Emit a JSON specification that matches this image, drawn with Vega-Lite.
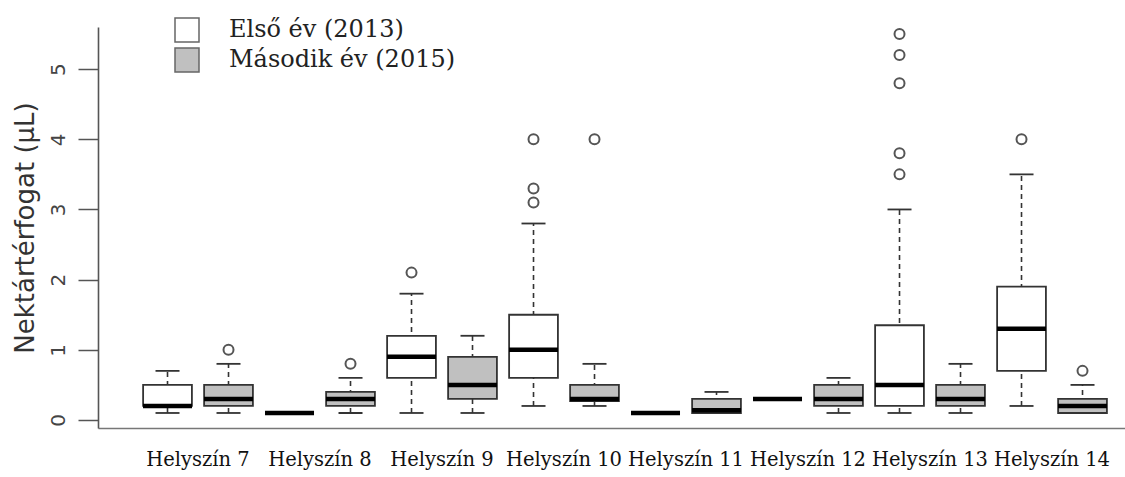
{
  "$schema": "https://vega.github.io/schema/vega-lite/v6.json",
  "width": 1027,
  "height": 401,
  "autosize": {"type": "none"},
  "padding": {"left": 98, "top": 27, "right": 0, "bottom": 49},
  "background": "white",
  "config": {"view": {"stroke": null}},
  "datasets": {
    "boxes": [
      {"site": "Helyszín 7", "year": "Első év (2013)", "lo": 0.1, "q1": 0.2, "med": 0.2, "q3": 0.5, "hi": 0.7},
      {"site": "Helyszín 7", "year": "Második év (2015)", "lo": 0.1, "q1": 0.2, "med": 0.3, "q3": 0.5, "hi": 0.8},
      {"site": "Helyszín 8", "year": "Első év (2013)", "lo": 0.1, "q1": 0.1, "med": 0.1, "q3": 0.1, "hi": 0.1},
      {"site": "Helyszín 8", "year": "Második év (2015)", "lo": 0.1, "q1": 0.2, "med": 0.3, "q3": 0.4, "hi": 0.6},
      {"site": "Helyszín 9", "year": "Első év (2013)", "lo": 0.1, "q1": 0.6, "med": 0.9, "q3": 1.2, "hi": 1.8},
      {"site": "Helyszín 9", "year": "Második év (2015)", "lo": 0.1, "q1": 0.3, "med": 0.5, "q3": 0.9, "hi": 1.2},
      {"site": "Helyszín 10", "year": "Első év (2013)", "lo": 0.2, "q1": 0.6, "med": 1.0, "q3": 1.5, "hi": 2.8},
      {"site": "Helyszín 10", "year": "Második év (2015)", "lo": 0.2, "q1": 0.27, "med": 0.3, "q3": 0.5, "hi": 0.8},
      {"site": "Helyszín 11", "year": "Első év (2013)", "lo": 0.1, "q1": 0.1, "med": 0.1, "q3": 0.1, "hi": 0.1},
      {"site": "Helyszín 11", "year": "Második év (2015)", "lo": 0.1, "q1": 0.1, "med": 0.14, "q3": 0.3, "hi": 0.4},
      {"site": "Helyszín 12", "year": "Első év (2013)", "lo": 0.3, "q1": 0.3, "med": 0.3, "q3": 0.3, "hi": 0.3},
      {"site": "Helyszín 12", "year": "Második év (2015)", "lo": 0.1, "q1": 0.2, "med": 0.3, "q3": 0.5, "hi": 0.6},
      {"site": "Helyszín 13", "year": "Első év (2013)", "lo": 0.1, "q1": 0.2, "med": 0.5, "q3": 1.35, "hi": 3.0},
      {"site": "Helyszín 13", "year": "Második év (2015)", "lo": 0.1, "q1": 0.2, "med": 0.3, "q3": 0.5, "hi": 0.8},
      {"site": "Helyszín 14", "year": "Első év (2013)", "lo": 0.2, "q1": 0.7, "med": 1.3, "q3": 1.9, "hi": 3.5},
      {"site": "Helyszín 14", "year": "Második év (2015)", "lo": 0.1, "q1": 0.1, "med": 0.2, "q3": 0.3, "hi": 0.5}
    ],
    "outliers": [
      {"site": "Helyszín 7", "year": "Második év (2015)", "value": 1.0},
      {"site": "Helyszín 8", "year": "Második év (2015)", "value": 0.8},
      {"site": "Helyszín 9", "year": "Első év (2013)", "value": 2.1},
      {"site": "Helyszín 10", "year": "Első év (2013)", "value": 3.1},
      {"site": "Helyszín 10", "year": "Első év (2013)", "value": 3.3},
      {"site": "Helyszín 10", "year": "Első év (2013)", "value": 4.0},
      {"site": "Helyszín 10", "year": "Második év (2015)", "value": 4.0},
      {"site": "Helyszín 13", "year": "Első év (2013)", "value": 3.5},
      {"site": "Helyszín 13", "year": "Első év (2013)", "value": 3.8},
      {"site": "Helyszín 13", "year": "Első év (2013)", "value": 4.8},
      {"site": "Helyszín 13", "year": "Első év (2013)", "value": 5.2},
      {"site": "Helyszín 13", "year": "Első év (2013)", "value": 5.5},
      {"site": "Helyszín 14", "year": "Első év (2013)", "value": 4.0},
      {"site": "Helyszín 14", "year": "Második év (2015)", "value": 0.7}
    ]
  },
  "encoding": {
    "x": {
      "field": "site",
      "type": "nominal",
      "sort": ["Helyszín 7", "Helyszín 8", "Helyszín 9", "Helyszín 10", "Helyszín 11", "Helyszín 12", "Helyszín 13", "Helyszín 14"],
      "scale": {"type": "band", "paddingInner": 0, "paddingOuter": 0.209, "align": 0.765},
      "axis": {
        "title": null,
        "ticks": false,
        "tickSize": 0,
        "labelAngle": 0,
        "labelFont": "DejaVu Serif",
        "labelFontSize": 19.5,
        "labelColor": "#111",
        "labelPadding": 22,
        "labelLimit": 0,
        "domainColor": "#777",
        "domainWidth": 1.6
      }
    },
    "xOffset": {
      "field": "year",
      "type": "nominal",
      "sort": ["Első év (2013)", "Második év (2015)"],
      "scale": {"paddingInner": 0.2, "paddingOuter": 0.1}
    }
  },
  "layer": [
    {
      "data": {"name": "boxes"},
      "mark": {"type": "rule", "strokeDash": [5, 4], "strokeWidth": 1.6, "color": "#333"},
      "encoding": {
        "y": {
          "field": "lo",
          "type": "quantitative",
          "title": "Nektártérfogat (µL)",
          "scale": {"domain": [-0.114, 5.6], "nice": false, "zero": false},
          "axis": {
            "values": [0, 1, 2, 3, 4, 5],
            "format": "d",
            "grid": false,
            "labelAngle": -90,
            "labelFont": "DejaVu Sans",
            "labelFontSize": 20,
            "labelColor": "#444",
            "labelPadding": 10,
            "tickSize": 20,
            "tickColor": "#555",
            "tickWidth": 1.5,
            "domainColor": "#555",
            "domainWidth": 1.6,
            "titleFont": "DejaVu Sans",
            "titleFontSize": 26,
            "titleFontWeight": "normal",
            "titleColor": "#333",
            "titlePadding": 10
          }
        },
        "y2": {"field": "hi"}
      }
    },
    {
      "data": {"name": "boxes"},
      "mark": {"type": "tick", "size": 24, "thickness": 1.8, "color": "#333", "opacity": 1},
      "encoding": {"y": {"field": "lo", "type": "quantitative", "title": "Nektártérfogat (µL)"}}
    },
    {
      "data": {"name": "boxes"},
      "mark": {"type": "tick", "size": 24, "thickness": 1.8, "color": "#333", "opacity": 1},
      "encoding": {"y": {"field": "hi", "type": "quantitative", "title": "Nektártérfogat (µL)"}}
    },
    {
      "data": {"name": "boxes"},
      "mark": {"type": "bar", "stroke": "#333", "strokeWidth": 1.8, "opacity": 1},
      "encoding": {
        "y": {"field": "q1", "type": "quantitative", "title": "Nektártérfogat (µL)"},
        "y2": {"field": "q3"},
        "fill": {
          "field": "year",
          "type": "nominal",
          "sort": ["Első év (2013)", "Második év (2015)"],
          "scale": {"range": ["#ffffff", "#c0c0c0"]},
          "legend": {
            "orient": "none",
            "legendX": 76,
            "legendY": -10,
            "title": null,
            "labelFont": "DejaVu Serif",
            "labelFontSize": 24,
            "labelColor": "#222",
            "labelOffset": 29,
            "labelLimit": 0,
            "symbolType": "square",
            "symbolSize": 576,
            "symbolStrokeColor": "#666",
            "symbolStrokeWidth": 1.5,
            "symbolOpacity": 1,
            "rowPadding": 0
          }
        }
      }
    },
    {
      "data": {"name": "boxes"},
      "mark": {"type": "tick", "size": 49, "thickness": 4.5, "color": "#000", "opacity": 1},
      "encoding": {"y": {"field": "med", "type": "quantitative", "title": "Nektártérfogat (µL)"}}
    },
    {
      "data": {"name": "outliers"},
      "mark": {"type": "point", "shape": "circle", "size": 100, "strokeWidth": 2, "color": "#555", "filled": false, "opacity": 1},
      "encoding": {"y": {"field": "value", "type": "quantitative", "title": "Nektártérfogat (µL)"}}
    }
  ]
}
